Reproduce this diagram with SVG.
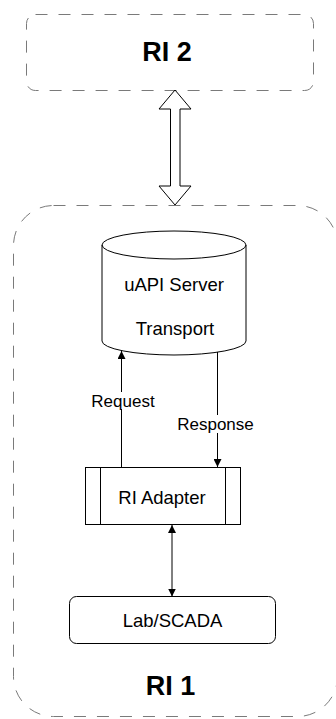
<svg xmlns="http://www.w3.org/2000/svg" width="336" height="719" viewBox="0 0 336 719">
<defs>
<style>
.cont{fill:#fff;stroke:#7a7a7a;stroke-width:1;stroke-dasharray:12 11}
.node{fill:#fff;stroke:#000;stroke-width:1}
.t{font-family:"Liberation Sans",Arial,sans-serif;font-size:18.5px;fill:#000;text-anchor:middle}
.lbl{font-family:"Liberation Sans",Arial,sans-serif;font-size:17px;fill:#000;text-anchor:middle}
.title{font-family:"Liberation Sans",Arial,sans-serif;font-size:27px;font-weight:bold;fill:#000;text-anchor:middle}
.edge{fill:none;stroke:#000;stroke-width:1}
</style>
<marker id="ah" viewBox="0 0 10 10" refX="10" refY="5" markerWidth="8" markerHeight="8" markerUnits="userSpaceOnUse" orient="auto-start-reverse">
<path d="M0,0 L10,5 L0,10 z" fill="#000"/>
</marker>
</defs>
<rect width="336" height="719" fill="#fff"/>
<g id="ri1">
<rect class="cont" x="13.5" y="205.5" width="324" height="511" rx="40" ry="40"/>
<text class="title" x="170.5" y="695">RI 1</text>
</g>
<g id="ri2">
<rect class="cont" x="26.5" y="14.5" width="287" height="76" rx="9" ry="9"/>
<text class="title" x="167" y="61">RI 2</text>
</g>
<g id="uapi">
<path class="node" d="M102,245 a72,14 0 0 1 144,0 v96 a72,14 0 0 1 -144,0 z"/>
<path class="edge" d="M102,245 a72,14 0 0 0 144,0"/>
<text class="t" x="174" y="290.5">uAPI Server</text>
<text class="t" x="175" y="335">Transport</text>
</g>
<g id="adapter">
<rect class="node" x="85.5" y="467.5" width="155" height="57"/>
<line class="edge" x1="100.5" y1="467.5" x2="100.5" y2="524.5"/>
<line class="edge" x1="225.5" y1="467.5" x2="225.5" y2="524.5"/>
<text class="t" x="162" y="504">RI Adapter</text>
</g>
<g id="lab">
<rect class="node" x="69.5" y="596.5" width="206" height="47" rx="7" ry="7"/>
<text class="t" x="172.5" y="626.5">Lab/SCADA</text>
</g>
<g id="connectors">
<path d="M175,90 L159,109 L170.5,109 L170.5,186 L159,186 L175,205 L191,186 L180,186 L180,109 L191,109 Z" fill="#fff" stroke="#000" stroke-width="1"/>
<line class="edge" x1="121.5" y1="467" x2="121.5" y2="351" marker-end="url(#ah)"/>
<rect x="89" y="392" width="66" height="17" fill="#fff"/>
<text class="lbl" x="123" y="407">Request</text>
<line class="edge" x1="217.5" y1="352" x2="217.5" y2="467" marker-end="url(#ah)"/>
<rect x="176" y="415" width="80" height="18" fill="#fff"/>
<text class="lbl" x="215.5" y="430">Response</text>
<line class="edge" x1="172" y1="525" x2="172" y2="596.5" marker-start="url(#ah)" marker-end="url(#ah)"/>
</g>
</svg>
